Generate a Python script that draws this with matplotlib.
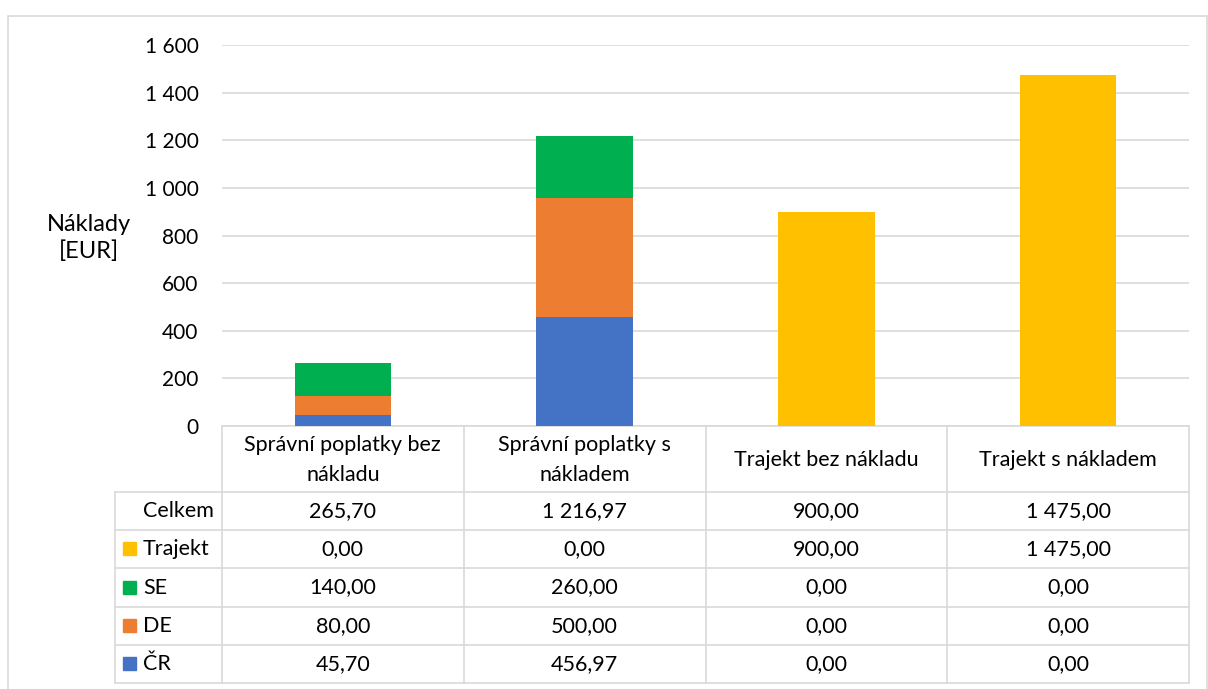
import matplotlib.pyplot as plt
from matplotlib.patches import Rectangle

plt.rcParams['font.family'] = ['Lato', 'DejaVu Sans']

categories = ["Správní poplatky bez\nnákladu", "Správní poplatky s\nnákladem",
              "Trajekt bez nákladu", "Trajekt s nákladem"]
cr = [45.70, 456.97, 0.00, 0.00]
de = [80.00, 500.00, 0.00, 0.00]
se = [140.00, 260.00, 0.00, 0.00]
trajekt = [0.00, 0.00, 900.00, 1475.00]
celkem = [265.70, 1216.97, 900.00, 1475.00]
yticks = [0, 200, 400, 600, 800, 1000, 1200, 1400, 1600]

colors = {"ČR": "#4472C4", "DE": "#ED7D31", "SE": "#00B050", "Trajekt": "#FFC000"}
GRID = "#D9D9D9"
FS = 15.5

W, H = 1208, 689
fig = plt.figure(figsize=(W / 100, H / 100), dpi=100)


def fx(px):
    return px / W


def fy(py):
    return 1 - py / H


# chart frame
fig.patches.append(Rectangle((fx(8), fy(700)), fx(1199), fy(16) - fy(700),
                             transform=fig.transFigure, fill=False,
                             edgecolor=GRID, linewidth=1.2))

# plot area
x0, x1, ytop, ybot = 222, 1189, 45, 426
ax = fig.add_axes([fx(x0), fy(ybot), fx(x1 - x0), fy(ytop) - fy(ybot)])
xs = range(len(categories))
bw = 0.4
bottom = [0.0] * len(categories)
for name, vals in [("ČR", cr), ("DE", de), ("SE", se), ("Trajekt", trajekt)]:
    ax.bar(xs, vals, bw, bottom=bottom, color=colors[name], zorder=3)
    bottom = [b + v for b, v in zip(bottom, vals)]

ax.set_xlim(-0.5, len(categories) - 0.5)
ax.set_ylim(0, 1600)
ax.set_yticks(yticks)
ax.set_yticklabels([f"{t:,}".replace(",", " ") for t in yticks], fontsize=15)
ax.tick_params(axis='y', length=0, pad=17)
ax.set_xticks([])
ax.grid(axis='y', color=GRID, linewidth=1.2, zorder=0)
for s in ["top", "right", "left"]:
    ax.spines[s].set_visible(False)
ax.spines["bottom"].set_color(GRID)
ax.spines["bottom"].set_linewidth(1.2)

fig.text(fx(89), fy(238), "Náklady\n[EUR]", ha='center', va='center',
         fontsize=17, linespacing=1.35)

# data table below the axis
tab = fig.add_axes([0, 0, 1, 1], zorder=-1)
tab.set_xlim(0, W)
tab.set_ylim(H, 0)
tab.axis('off')

col_edges = [x0 + i * (x1 - x0) / len(categories) for i in range(len(categories) + 1)]
row_edges = [492, 530, 568, 607, 645, 683]
lbl_left = 115

for xe in col_edges:
    tab.plot([xe, xe], [ybot, row_edges[-1]], color=GRID, lw=1.2)
tab.plot([lbl_left, lbl_left], [row_edges[0], row_edges[-1]], color=GRID, lw=1.2)
for ye in row_edges:
    tab.plot([lbl_left, x1], [ye, ye], color=GRID, lw=1.2)


def fmt(v):
    return f"{v:,.2f}".replace(",", " ").replace(".", ",")


for i, cat in enumerate(categories):
    cx = (col_edges[i] + col_edges[i + 1]) / 2
    tab.text(cx, (ybot + row_edges[0]) / 2 + 1, cat, ha='center', va='center',
             fontsize=FS, linespacing=1.65)

rows = [("Celkem", celkem, None), ("Trajekt", trajekt, colors["Trajekt"]),
        ("SE", se, colors["SE"]), ("DE", de, colors["DE"]), ("ČR", cr, colors["ČR"])]
for r, (name, vals, col) in enumerate(rows):
    cy = (row_edges[r] + row_edges[r + 1]) / 2
    if col is not None:
        tab.add_patch(Rectangle((123, cy - 7), 13, 13, color=col))
    tab.text(143, cy, name, ha='left', va='center', fontsize=FS)
    for i, v in enumerate(vals):
        cx = (col_edges[i] + col_edges[i + 1]) / 2
        tab.text(cx, cy, fmt(v), ha='center', va='center', fontsize=FS)

fig.savefig("out.png", dpi=100)
